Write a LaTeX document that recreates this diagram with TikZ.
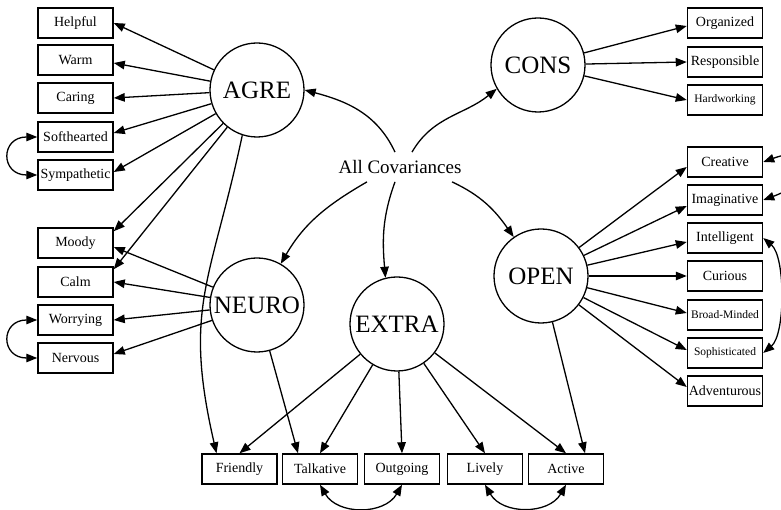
\documentclass[tikz,border=0pt]{standalone}
\usepackage{fontspec}
\setmainfont{Liberation Serif}
\usetikzlibrary{arrows.meta}

\begin{document}
\begin{tikzpicture}[x=1pt, y=1pt,
  factor/.style={draw, circle, line width=1.3pt, minimum size=94pt, inner sep=0pt,
    font=\fontsize{25}{28}\selectfont},
  item/.style={draw, line width=1.5pt, minimum width=75pt, minimum height=30pt,
    inner sep=1pt, font=\fontsize{14}{16}\selectfont},
  smallitem/.style={item, font=\fontsize{11.5}{13}\selectfont},
  load/.style={-{Triangle[length=11pt,width=8.5pt]}, line width=1.3pt},
  cov/.style={{Triangle[length=11pt,width=8.5pt]}-{Triangle[length=11pt,width=8.5pt]},
    line width=1.3pt}
]
  \useasboundingbox (0,0) rectangle (781,510);
  \clip (0,0) rectangle (781,510);

  % Factors
  \node[factor] (AGRE) at (257,420) {AGRE};
  \node[factor] (CONS) at (538,445) {CONS};
  \node[factor] (NEURO) at (257,205) {NEURO};
  \node[factor] (EXTRA) at (397,186) {EXTRA};
  \node[factor] (OPEN) at (541,234) {OPEN};
  \node[font=\fontsize{19}{22}\selectfont, inner sep=8pt] (covs) at (400,343) {All Covariances};

  % Left items
  \node[item] (Helpful) at (75.5,487) {Helpful};
  \node[item] (Warm) at (75.5,450) {Warm};
  \node[item] (Caring) at (75.5,412) {Caring};
  \node[item] (Softhearted) at (75.5,373) {Softhearted};
  \node[item] (Sympathetic) at (75.5,335) {Sympathetic};
  \node[item] (Moody) at (75.5,267) {Moody};
  \node[item] (Calm) at (75.5,228) {Calm};
  \node[item] (Worrying) at (75.5,190) {Worrying};
  \node[item] (Nervous) at (75.5,152) {Nervous};

  % Bottom items
  \node[item] (Friendly) at (239.5,41) {Friendly};
  \node[item] (Talkative) at (320,41) {Talkative};
  \node[item] (Outgoing) at (402,41) {Outgoing};
  \node[item] (Lively) at (485,41) {Lively};
  \node[item] (Active) at (566,41) {Active};

  % Right items
  \node[item] (Organized) at (725,487) {Organized};
  \node[item] (Responsible) at (725,448) {Responsible};
  \node[smallitem] (Hardworking) at (725,410) {Hardworking};
  \node[item] (Creative) at (725,348) {Creative};
  \node[item] (Imaginative) at (725,310) {Imaginative};
  \node[item] (Intelligent) at (725,272) {Intelligent};
  \node[item] (Curious) at (725,234) {Curious};
  \node[smallitem] (BroadMinded) at (725,195) {Broad-Minded};
  \node[smallitem] (Sophisticated) at (725,157) {Sophisticated};
  \node[item] (Adventurous) at (725,119) {Adventurous};

  % AGRE loadings
  \draw[load] (AGRE) -- (Helpful.east);
  \draw[load] (AGRE) -- ([yshift=-3pt]Warm.east);
  \draw[load] (AGRE) -- (Caring.east);
  \draw[load] (AGRE) -- ([yshift=4pt]Softhearted.east);
  \draw[load] (AGRE) -- ([yshift=3pt]Sympathetic.east);
  \draw[load] (AGRE) -- ([yshift=-4pt]Moody.north east);
  \draw[load] (AGRE) -- ([yshift=-3pt]Calm.north east);
  \draw[load] (AGRE.-108) to[out=-102, in=103, distance=150pt] ([xshift=-23pt]Friendly.north);

  % NEURO loadings
  \draw[load] (NEURO) -- ([yshift=-4pt]Moody.east);
  \draw[load] (NEURO) -- (Calm.east);
  \draw[load] (NEURO) -- (Worrying.east);
  \draw[load] (NEURO) -- ([yshift=4pt]Nervous.east);
  \draw[load] (NEURO) -- ([xshift=-22pt]Talkative.north);

  % EXTRA loadings
  \draw[load] (EXTRA) -- (Friendly.north);
  \draw[load] (EXTRA) -- (Talkative.north);
  \draw[load] (EXTRA) -- (Outgoing.north);
  \draw[load] (EXTRA) -- (Lively.north);
  \draw[load] (EXTRA) -- (Active.north);

  % OPEN loadings
  \draw[load] (OPEN) -- ([yshift=-5pt]Creative.west);
  \draw[load] (OPEN) -- ([yshift=-6pt]Imaginative.west);
  \draw[load] (OPEN) -- ([yshift=-4pt]Intelligent.west);
  \draw[load] (OPEN) -- (Curious.west);
  \draw[load] (OPEN) -- ([yshift=2pt]BroadMinded.west);
  \draw[load] (OPEN) -- ([yshift=3pt]Sophisticated.west);
  \draw[load] (OPEN) -- ([yshift=4pt]Adventurous.west);
  \draw[load] (OPEN) -- ([xshift=19pt]Active.north);

  % CONS loadings
  \draw[load] (CONS) -- ([yshift=-3pt]Organized.west);
  \draw[load] (CONS) -- (Responsible.west);
  \draw[load] (CONS) -- (Hardworking.west);

  % Factor covariances
  \draw[load] ([xshift=-5pt]covs.north) to[out=115, in=-15] (AGRE.east);
  \draw[load] ([xshift=12pt]covs.north) to[out=60, in=-141] (CONS.-150);
  \draw[load] ([xshift=-33pt]covs.south) to[out=210, in=60] (NEURO);
  \draw[load] ([xshift=-5pt]covs.south) to[out=-110, in=95] (EXTRA.104);
  \draw[load] ([xshift=52pt]covs.south) to[out=-25, in=125] (OPEN);

  % Residual covariances
  \draw[cov] (Softhearted.west) to[out=180, in=180, looseness=2.5] (Sympathetic.west);
  \draw[cov] (Worrying.west) to[out=180, in=180, looseness=2.5] (Nervous.west);
  \draw[cov] (Talkative.south) to[out=-60, in=-120, looseness=1.1] (Outgoing.south);
  \draw[cov] (Lively.south) to[out=-60, in=-120, looseness=1.1] (Active.south);
  \draw[cov] (Creative.east) to[out=20, in=20, distance=60pt] (Imaginative.east);
  \draw[cov] (Intelligent.east) to[out=-40, in=40, looseness=0.65] (Sophisticated.east);
\end{tikzpicture}
\end{document}
